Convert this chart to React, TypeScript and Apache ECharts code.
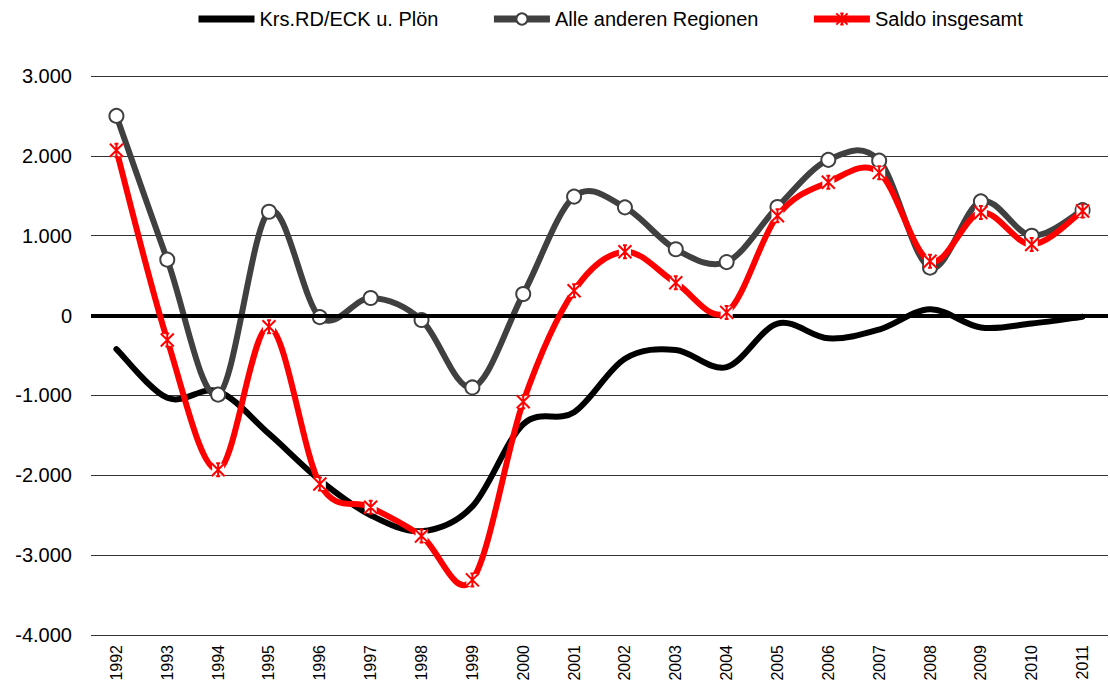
import React, { useEffect, useRef } from "react";
import * as echarts from "echarts";

const years = ["1992","1993","1994","1995","1996","1997","1998","1999","2000","2001","2002","2003","2004","2005","2006","2007","2008","2009","2010","2011"];
const krs = [-420, -1030, -950, -1480, -2060, -2500, -2700, -2390, -1360, -1210, -540, -430, -645, -100, -285, -175, 80, -150, -100, -15];
const alle = [2500, 700, -990, 1300, -20, 220, -55, -900, 270, 1490, 1355, 830, 670, 1360, 1950, 1940, 600, 1430, 1000, 1320];
const saldo = [2070, -305, -1930, -140, -2110, -2400, -2760, -3310, -1080, 310, 800, 410, 40, 1250, 1670, 1790, 680, 1290, 890, 1310];
const seriesNames = ["Krs.RD/ECK u. Plön", "Alle anderen Regionen", "Saldo insgesamt"];
const colors = ["#000000", "#404040", "#ff0000"];

const fmt = (v: number) => {
  const s = String(Math.abs(v)).replace(/\B(?=(\d{3})+(?!\d))/g, ".");
  return (v < 0 ? "-" : "") + s;
};

const FONT = "'Liberation Sans', Arial, sans-serif";
const STAR = "path://M0,0L10,10M10,0L0,10M5,0L5,10M3.5,0L6.5,0M3.5,10L6.5,10";

const toData = (arr: number[]) => arr.map((v, i) => [i, v]);

// Smooth curve (Catmull-Rom style bezier) through the points, drawn via the axes' scales
const curveSeries = (arr: number[], color: string, z: number) => ({
  type: "custom",
  coordinateSystem: "cartesian2d",
  data: toData(arr),
  encode: { x: 0, y: 1 },
  z,
  silent: true,
  renderItem: (params: any, api: any) => {
    if (params.dataIndex !== 0) return null;
    const pts = arr.map((v, i) => api.coord([i, v]));
    const n = pts.length;
    const t = 1 / 6;
    let d = `M${pts[0][0]},${pts[0][1]}`;
    for (let i = 0; i < n - 1; i++) {
      const p0 = pts[Math.max(i - 1, 0)];
      const p1 = pts[i];
      const p2 = pts[i + 1];
      const p3 = pts[Math.min(i + 2, n - 1)];
      const c1x = p1[0] + (p2[0] - p0[0]) * t;
      const c1y = p1[1] + (p2[1] - p0[1]) * t;
      const c2x = p2[0] - (p3[0] - p1[0]) * t;
      const c2y = p2[1] - (p3[1] - p1[1]) * t;
      d += ` C${c1x},${c1y} ${c2x},${c2y} ${p2[0]},${p2[1]}`;
    }
    return {
      type: "path",
      shape: { pathData: d },
      style: { stroke: color, lineWidth: 6, fill: null, lineJoin: "round", lineCap: "round" },
    };
  },
});

export default function App() {
  const ref = useRef<HTMLDivElement>(null);
  useEffect(() => {
    document.body.style.margin = "0";
    const chart = echarts.init(ref.current!, null, { renderer: "svg" });
    chart.setOption({
      animation: false,
      backgroundColor: "#fff",
      legend: {
        left: 195,
        top: 9,
        padding: 0,
        itemWidth: 56,
        itemHeight: 14,
        itemGap: 52,
        data: [
          { name: seriesNames[0], itemStyle: { opacity: 0 }, lineStyle: { color: colors[0], width: 7, opacity: 1 } },
          { name: seriesNames[1], lineStyle: { color: colors[1], width: 7, opacity: 1 } },
          { name: seriesNames[2], lineStyle: { color: colors[2], width: 7, opacity: 1 } },
        ],
        textStyle: { fontSize: 20, color: "#000", fontFamily: FONT },
      },
      grid: { left: 91, right: 2, top: 76, bottom: 49 },
      xAxis: {
        type: "category",
        data: years,
        boundaryGap: true,
        axisLine: { show: false },
        axisTick: { show: false },
        axisLabel: { rotate: 90, fontSize: 16, color: "#000", fontFamily: FONT, margin: 10, interval: 0 },
      },
      yAxis: {
        type: "value",
        min: -4000,
        max: 3000,
        interval: 1000,
        axisLine: { show: false },
        axisTick: { show: false },
        axisLabel: { fontSize: 20, color: "#000", fontFamily: FONT, margin: 19, formatter: fmt },
        splitLine: { lineStyle: { color: "#333", width: 1 } },
      },
      series: [
        {
          name: seriesNames[0],
          type: "line",
          data: krs,
          symbol: "none",
          z: 1,
          lineStyle: { color: colors[0], width: 6, opacity: 0 },
          itemStyle: { color: colors[0] },
          markLine: {
            silent: true,
            symbol: "none",
            label: { show: false },
            lineStyle: { color: "#000", width: 4, type: "solid", opacity: 1 },
            data: [{ yAxis: 0 }],
          },
        },
        curveSeries(krs, colors[0], 2),
        curveSeries(alle, colors[1], 3),
        {
          name: seriesNames[1],
          type: "line",
          data: alle,
          symbol: "circle",
          symbolSize: 14,
          z: 4,
          lineStyle: { color: colors[1], width: 6, opacity: 0 },
          itemStyle: { color: "#fff", borderColor: colors[1], borderWidth: 2 },
        },
        curveSeries(saldo, colors[2], 5),
        {
          type: "line",
          data: saldo,
          symbol: "rect",
          symbolSize: 12,
          z: 6,
          silent: true,
          lineStyle: { opacity: 0 },
          itemStyle: { color: "#fff" },
        },
        {
          name: seriesNames[2],
          type: "line",
          data: saldo,
          symbol: STAR,
          symbolSize: 13,
          z: 7,
          lineStyle: { color: colors[2], width: 6, opacity: 0 },
          itemStyle: { color: colors[2], borderColor: colors[2], borderWidth: 2 },
        },
      ],
    });
    return () => chart.dispose();
  }, []);
  return <div ref={ref} style={{ width: 1110, height: 684 }} />;
}
